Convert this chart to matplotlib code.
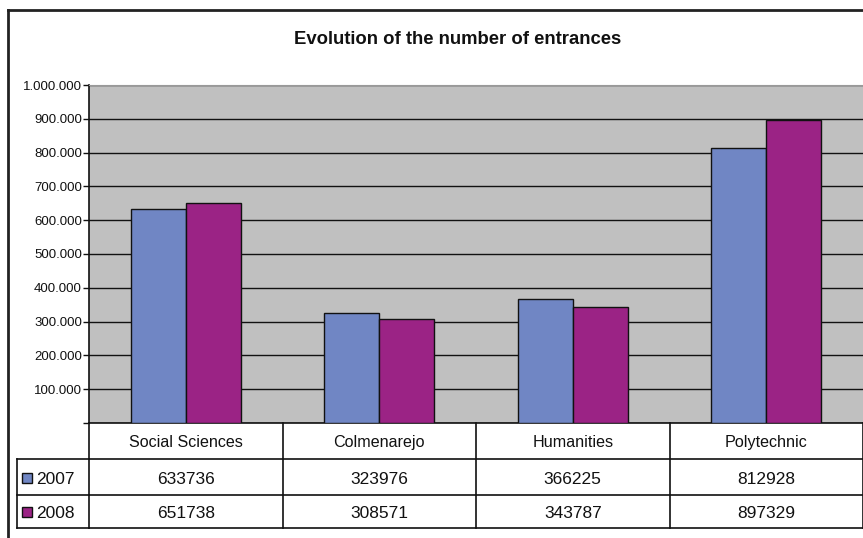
import numpy as np
import matplotlib.pyplot as plt
from matplotlib.ticker import FuncFormatter
from matplotlib.transforms import blended_transform_factory
from matplotlib.patches import Rectangle

plt.rcParams['font.family'] = ['Liberation Sans', 'DejaVu Sans']

categories = ['Social Sciences', 'Colmenarejo', 'Humanities', 'Polytechnic']
years = ['2007', '2008']
values_2007 = [633736, 323976, 366225, 812928]
values_2008 = [651738, 308571, 343787, 897329]
colors = ['#7086c4', '#9b2385']

W, H = 863, 538
fig = plt.figure(figsize=(W / 100, H / 100), dpi=100)

# pixel helpers (from top-left)
def fx(px):
    return px / W

def fy(py):
    return 1 - py / H

ax_left, ax_top, ax_bottom = 89, 85, 423
ax = fig.add_axes([fx(ax_left), fy(ax_bottom), 1 - fx(ax_left), (ax_bottom - ax_top) / H])
ax.set_facecolor('#c0c0c0')

x = np.arange(len(categories))
bw = 0.285
ax.bar(x - bw / 2, values_2007, bw, color=colors[0], edgecolor='#111111', linewidth=1, zorder=3)
ax.bar(x + bw / 2, values_2008, bw, color=colors[1], edgecolor='#111111', linewidth=1, zorder=3)

ax.set_xlim(-0.5, len(categories) - 0.5)
ax.set_ylim(0, 1000000)
ax.set_yticks(np.arange(0, 1000001, 100000))
ax.yaxis.set_major_formatter(FuncFormatter(
    lambda v, p: '' if v == 0 else f'{int(v):,}'.replace(',', '.')))
ax.grid(axis='y', color='#111111', linewidth=1, zorder=1)
ax.set_xticks([])
ax.tick_params(axis='y', length=4, width=1, direction='out', labelsize=9.5, colors='#111111', pad=1)
for s in ['right', 'bottom']:
    ax.spines[s].set_visible(False)
ax.spines['top'].set_color('#999999')
ax.spines['left'].set_color('#111111')
ax.spines['left'].set_linewidth(1.2)

fig.text(fx(458), fy(40), 'Evolution of the number of entrances', ha='center', va='center',
         fontsize=13.3, fontweight='bold', color='#111111')

# data table below the axes
bt = blended_transform_factory(ax.transData, fig.transFigure)
row_lines = [423, 459, 495, 528]
lc = '#111111'
for i, r in enumerate(row_lines):
    ax.plot([-0.5, len(categories) - 0.5], [fy(r), fy(r)], transform=bt,
            color=lc, linewidth=1.2, clip_on=False)
    if i > 0:
        fig.add_artist(plt.Line2D([fx(17), fx(ax_left)], [fy(r), fy(r)], color=lc, linewidth=1.2))
for b in np.arange(len(categories) + 1) - 0.5:
    ax.plot([b, b], [fy(423), fy(528)], transform=bt, color=lc, linewidth=1.2, clip_on=False)
fig.add_artist(plt.Line2D([fx(17), fx(17)], [fy(459), fy(528)], color=lc, linewidth=1.2))

for i, c in enumerate(categories):
    ax.text(x[i], fy(441), c, transform=bt, ha='center', va='center_baseline',
            fontsize=11.6, color='#111111')
    ax.text(x[i], fy(478), str(values_2007[i]), transform=bt, ha='center', va='center_baseline',
            fontsize=12.5, color='#111111')
    ax.text(x[i], fy(512), str(values_2008[i]), transform=bt, ha='center', va='center_baseline',
            fontsize=12.5, color='#111111')

for j, (yr, col) in enumerate(zip(years, colors)):
    yc = 478 + 34 * j
    fig.add_artist(Rectangle((fx(22), fy(yc + 5)), 10 / W, 10 / H, facecolor=col,
                             edgecolor='#111111', linewidth=1))
    fig.text(fx(36), fy(yc), yr, ha='left', va='center_baseline', fontsize=12.5, color='#111111')

# outer chart frame
fig.add_artist(plt.Line2D([fx(8), 1], [fy(10), fy(10)], color='#222222', linewidth=2))
fig.add_artist(plt.Line2D([fx(8), fx(8)], [fy(10), 0], color='#222222', linewidth=2))

fig.savefig('out.png', dpi=100)
